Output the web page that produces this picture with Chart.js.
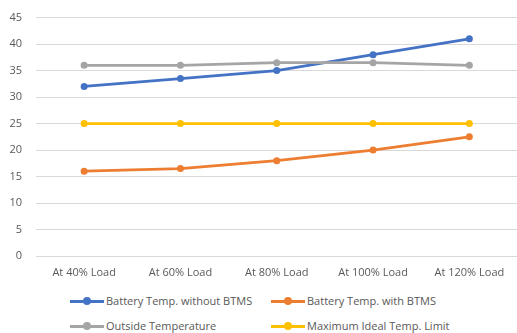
<!DOCTYPE html>
<html><head><meta charset="utf-8">
<script src="https://cdn.jsdelivr.net/npm/chart.js@4/dist/chart.umd.min.js"></script>
<style>
html,body{margin:0;padding:0;background:#fff;}
#wrap{position:relative;width:517px;height:333px;overflow:hidden;font-family:"Open Sans",sans-serif;}
#cwrap{position:absolute;left:0;top:-3px;width:521px;height:291px;}
.leg{position:absolute;font-size:11px;color:#595959;white-space:nowrap;line-height:14px;}
.leg .ln{display:inline-block;position:relative;width:34px;height:3px;vertical-align:middle;margin-right:2px;top:-1px;}
.leg .dt{position:absolute;left:13px;top:-2.5px;width:8px;height:8px;border-radius:50%;}
</style></head>
<body><div id="wrap"><div id="cwrap"><canvas id="c"></canvas></div><div id="legend"></div></div>
<script>
const categories = ["At 40% Load","At 60% Load","At 80% Load","At 100% Load","At 120% Load"];
const seriesNames = ["Battery Temp. without BTMS","Battery Temp. with BTMS","Outside Temperature","Maximum Ideal Temp. Limit"];
const withoutBTMS = [32, 33.5, 35, 38, 41];
const withBTMS = [16, 16.5, 18, 20, 22.5];
const outsideTemp = [36, 36, 36.5, 36.5, 36];
const maxIdeal = [25, 25, 25, 25, 25];
const yTicks = [0,5,10,15,20,25,30,35,40,45];
const colors = ["#4472C4","#ED7D31","#A5A5A5","#FFC000"];
const seriesValues = [withoutBTMS, withBTMS, outsideTemp, maxIdeal];

const datasets = seriesValues.map((v,i)=>({
  label: seriesNames[i], data: v, borderColor: colors[i], backgroundColor: colors[i],
  borderWidth: 2.75, pointRadius: 3.5, pointHoverRadius: 3.5, pointBorderWidth: 0,
  tension: 0, order: 4 - i
}));

new Chart(document.getElementById('c'), {
  type: 'line',
  data: { labels: categories, datasets },
  options: {
    responsive: true, maintainAspectRatio: false, animation: false,
    layout: { padding: { top: 6.5, right: 0, left: 0, bottom: 0 } },
    plugins: { legend: { display: false }, tooltip: { enabled: false } },
    scales: {
      x: {
        offset: true,
        grid: { display: false, drawTicks: false },
        border: { display: false },
        ticks: { color: "#595959", font: { family: "Open Sans", size: 11 }, padding: 10, maxRotation: 0 },
        afterFit: s => { s.height = 32; }
      },
      y: {
        min: 0, max: 45,
        afterBuildTicks: s => { s.ticks = yTicks.map(v => ({ value: v })); },
        grid: { color: "#d9d9d9", lineWidth: 1, drawTicks: false },
        border: { display: false },
        ticks: { color: "#595959", font: { family: "Open Sans", size: 11 }, padding: 14 },
        afterFit: s => { s.width = 36; }
      }
    }
  }
});

const legendPos = [[70,294],[271,294],[70,319],[271,319]];
const lg = document.getElementById('legend');
seriesNames.forEach((n,i)=>{
  const d = document.createElement('div');
  d.className = 'leg';
  d.style.left = legendPos[i][0] + 'px';
  d.style.top = legendPos[i][1] + 'px';
  d.innerHTML = '<span class="ln" style="background:'+colors[i]+'"><span class="dt" style="background:'+colors[i]+'"></span></span>' + n;
  lg.appendChild(d);
});
</script></body></html>
